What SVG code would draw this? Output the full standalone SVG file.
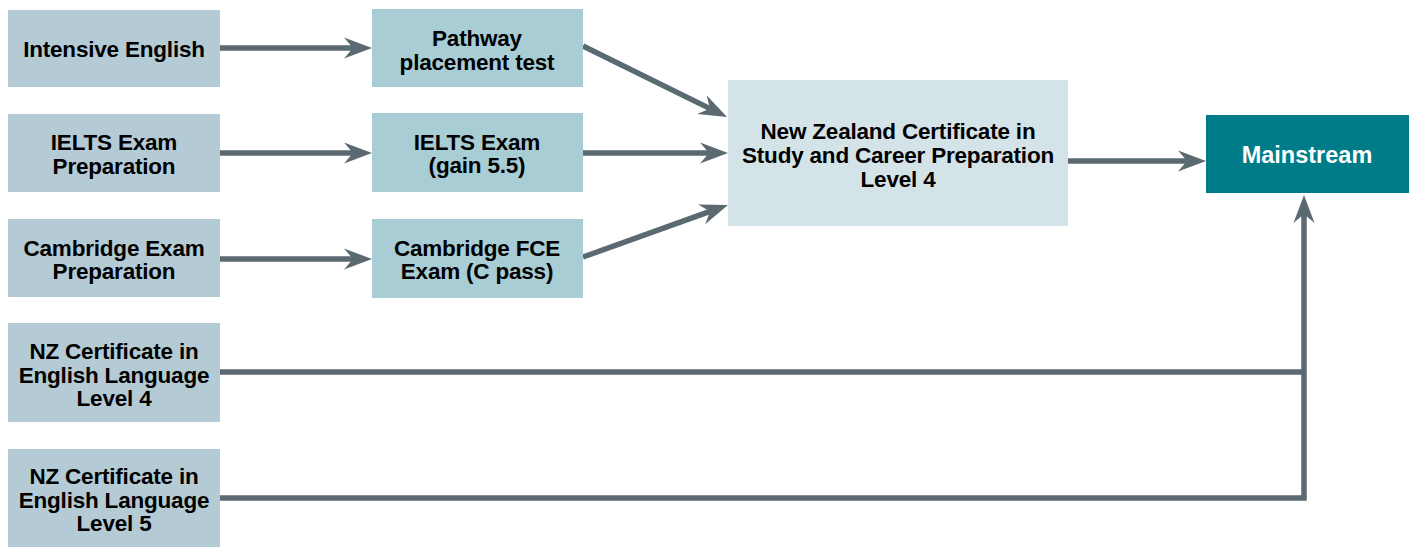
<svg xmlns="http://www.w3.org/2000/svg" width="1415" height="547" viewBox="0 0 1415 547">
<style>
.t{font-family:"Liberation Sans",Arial,sans-serif;font-weight:bold;font-size:22.5px;letter-spacing:-0.2px;fill:#000;text-anchor:middle}
.w{fill:#fff;font-size:23.5px;letter-spacing:0}
.l{fill:#b4cbd6}
.m{fill:#a8cdd5}
.c{stroke:#5b6971;stroke-width:5.5;fill:none}
</style>
<defs>
<marker id="a" markerUnits="userSpaceOnUse" orient="auto" overflow="visible" markerWidth="40" markerHeight="30" refX="0" refY="0">
<path d="M19,0 L-9,-10.5 L0,0 L-9,10.5 Z" fill="#5b6971"/>
</marker>
</defs>
<g id="connectors">
<path class="c" d="M220,48 H353" marker-end="url(#a)"/>
<path class="c" d="M220,153 H353" marker-end="url(#a)"/>
<path class="c" d="M220,259 H353" marker-end="url(#a)"/>
<path class="c" d="M583,46 L710,108.6" marker-end="url(#a)"/>
<path class="c" d="M583,153 H709" marker-end="url(#a)"/>
<path class="c" d="M583,257 L710.1,211.4" marker-end="url(#a)"/>
<path class="c" d="M1068,161 H1187" marker-end="url(#a)"/>
<path class="c" d="M220,372 H1304"/>
<path class="c" d="M220,498 H1304 V214" marker-end="url(#a)"/>
</g>
<g id="intensive"><rect class="l" x="8" y="10" width="212" height="77"/><text class="t" x="114" y="57">Intensive English</text></g>
<g id="ielts-prep"><rect class="l" x="8" y="114" width="212" height="78"/><text class="t" x="114" y="150">IELTS Exam</text><text class="t" x="114" y="174">Preparation</text></g>
<g id="cambridge-prep"><rect class="l" x="8" y="219" width="212" height="78"/><text class="t" x="114" y="256">Cambridge Exam</text><text class="t" x="114" y="279">Preparation</text></g>
<g id="nz-l4"><rect class="l" x="8" y="323" width="212" height="99"/><text class="t" x="114" y="359">NZ Certificate in</text><text class="t" x="114" y="383">English Language</text><text class="t" x="114" y="406">Level 4</text></g>
<g id="nz-l5"><rect class="l" x="8" y="449" width="212" height="98"/><text class="t" x="114" y="484">NZ Certificate in</text><text class="t" x="114" y="508">English Language</text><text class="t" x="114" y="531">Level 5</text></g>
<g id="pathway"><rect class="m" x="372" y="9" width="211" height="78"/><text class="t" x="477" y="46">Pathway</text><text class="t" x="477" y="70">placement test</text></g>
<g id="ielts-exam"><rect class="m" x="372" y="113" width="211" height="79"/><text class="t" x="477" y="150">IELTS Exam</text><text class="t" x="477" y="173">(gain 5.5)</text></g>
<g id="fce"><rect class="m" x="372" y="219" width="211" height="79"/><text class="t" x="477" y="256">Cambridge FCE</text><text class="t" x="477" y="279">Exam (C pass)</text></g>
<g id="nzcscp"><rect x="728" y="80" width="340" height="146" fill="#d4e3e8"/><text class="t" x="898" y="139">New Zealand Certificate in</text><text class="t" x="898" y="163">Study and Career Preparation</text><text class="t" x="898" y="187">Level 4</text></g>
<g id="mainstream"><rect x="1206" y="115" width="203" height="78" fill="#007b88"/><text class="t w" x="1307" y="163">Mainstream</text></g>
</svg>
